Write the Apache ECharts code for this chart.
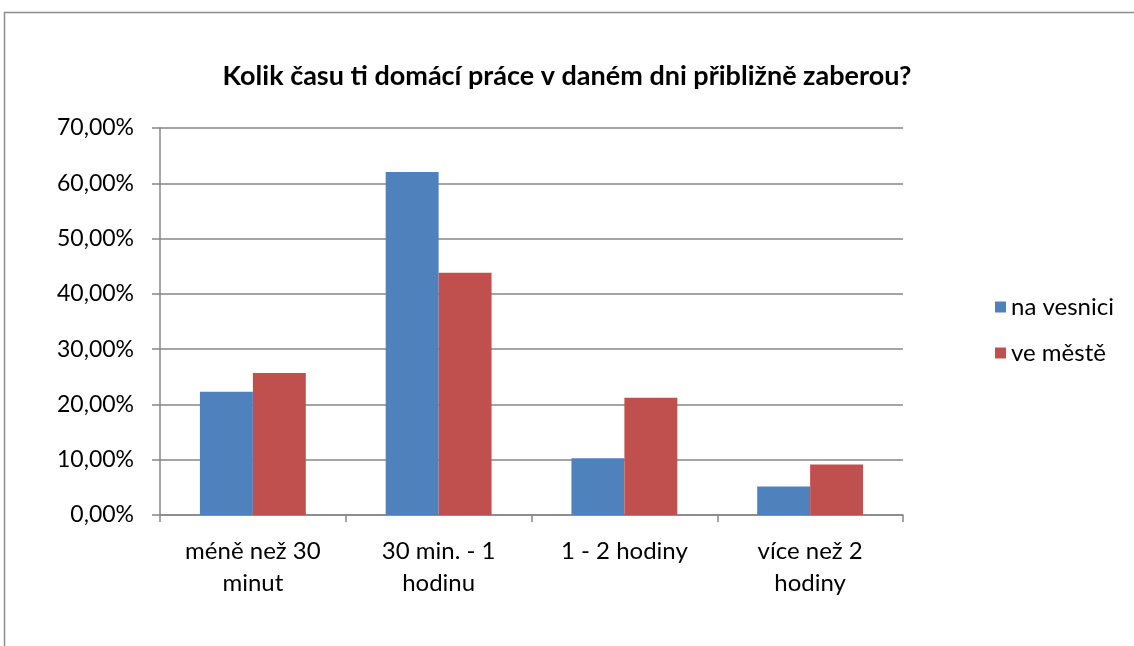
<!DOCTYPE html>
<html>
<head>
<meta charset="utf-8">
<script src="https://cdn.jsdelivr.net/npm/echarts@6/dist/echarts.min.js"></script>
<style>
html, body { margin: 0; padding: 0; background: #fff; }
#chart { width: 1134px; height: 646px; }
</style>
</head>
<body>
<div id="chart"></div>
<script>
var categories = ['méně než 30\nminut', '30 min. - 1\nhodinu', '1 - 2 hodiny', 'více než 2\nhodiny'];
var vesnice = [22.28, 62.03, 10.27, 5.14];
var mesto = [25.67, 43.84, 21.2, 9.13];
var seriesNames = ['na vesnici', 've městě'];

var font = 'Lato, "Open Sans", sans-serif';
var myChart = echarts.init(document.getElementById('chart'));

var option = {
    backgroundColor: '#fff',
    animation: false,
    graphic: [{
        type: 'rect',
        shape: { x: 4.5, y: 12.5, width: 1200, height: 700 },
        style: { fill: 'none', stroke: '#8c8c8c', lineWidth: 1.5 }
    }],
    title: {
        text: 'Kolik času ti domácí práce v daném dni přibližně zaberou?',
        left: 'center',
        top: 58,
        textStyle: { fontFamily: font, fontSize: 27, fontWeight: 'bold', color: '#000' }
    },
    legend: {
        orient: 'vertical',
        left: 990,
        top: 290,
        itemWidth: 11,
        itemHeight: 11,
        itemGap: 22,
        icon: 'rect',
        data: seriesNames,
        textStyle: { fontFamily: font, fontSize: 24, color: '#000' }
    },
    grid: { left: 160, right: 231, top: 128, bottom: 131 },
    xAxis: {
        type: 'category',
        data: categories,
        axisLine: { lineStyle: { color: '#868686', width: 1.5 } },
        axisTick: { show: true, alignWithLabel: false, length: 7, lineStyle: { color: '#868686', width: 1.5 } },
        axisLabel: { fontFamily: font, fontSize: 24, color: '#000', margin: 20, lineHeight: 32 }
    },
    yAxis: {
        type: 'value',
        min: 0,
        max: 70,
        interval: 10,
        axisLine: { show: true, lineStyle: { color: '#868686', width: 1.5 } },
        axisTick: { show: true, length: 8, lineStyle: { color: '#868686', width: 1.5 } },
        splitLine: { lineStyle: { color: '#868686', width: 1.5 } },
        axisLabel: {
            fontFamily: font, fontSize: 23, color: '#000', margin: 26,
            formatter: function (v) { return v.toFixed(2).replace('.', ',') + '%'; }
        }
    },
    series: [{
        name: seriesNames[0],
        type: 'bar',
        data: vesnice,
        barGap: '0%',
        barCategoryGap: '43%',
        itemStyle: { color: '#4f81bd' }
    }, {
        name: seriesNames[1],
        type: 'bar',
        data: mesto,
        barGap: '0%',
        barCategoryGap: '43%',
        itemStyle: { color: '#c0504d' }
    }]
};

myChart.setOption(option);
</script>
</body>
</html>
